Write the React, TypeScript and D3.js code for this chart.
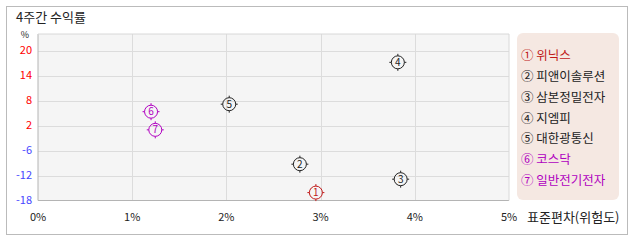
import React from "react";
import * as d3 from "d3";

const names = ["위닉스", "피앤이솔루션", "삼본정밀전자", "지엠피", "대한광통신", "코스닥", "일반전기전자"];
const marks = ["①", "②", "③", "④", "⑤", "⑥", "⑦"];
const risk = [2.95, 2.78, 3.85, 3.82, 2.03, 1.2, 1.245];
const ret = [-16.0, -8.8, -12.6, 17.0, 6.4, 4.5, -0.1];
const colors = ["#c01818", "#222222", "#222222", "#222222", "#222222", "#b000c0", "#b000c0"];
const yTicks = [20, 14, 8, 2, -6, -12, -18];
const xTicks = [0, 1, 2, 3, 4, 5];

const FONT = "'Noto Sans CJK KR', 'DejaVu Sans', sans-serif";

export default function App() {
  const W = 638, H = 242;
  const x = d3.scaleLinear().domain([0, 5]).range([38, 509]);
  const y = d3.scaleLinear().domain([-18, 20]).range([200.5, 50.5]);
  const tickPos = d3.scaleLinear().domain([0, yTicks.length - 1]).range([y(20), y(-18)]);
  const left = x(0), right = x(5), top = 34, bottom = y(-18);
  return (
    <svg width={W} height={H} style={{ position: "absolute", left: 0, top: 0 }} fontFamily={FONT}>
      <rect x={6.5} y={6.5} width={621} height={228} fill="#fff" stroke="#bbb" />
      <text x={16} y={22} fontSize={13} fill="#222">4주간 수익률</text>
      <text x={25} y={38} fontSize={9} fill="#222" textAnchor="middle">%</text>
      <rect x={left} y={top} width={right - left} height={bottom - top} fill="#f5f5f5" />
      {xTicks.slice(1, 5).map((t) => (
        <line key={"gx" + t} x1={Math.round(x(t)) + 0.5} x2={Math.round(x(t)) + 0.5} y1={top} y2={bottom} stroke="#dcdcdc" />
      ))}
      {yTicks.slice(0, 6).map((t, i) => (
        <line key={"gy" + t} x1={left} x2={right} y1={Math.round(tickPos(i)) + 0.5} y2={Math.round(tickPos(i)) + 0.5} stroke="#dcdcdc" />
      ))}
      <line x1={left} x2={left} y1={top} y2={bottom} stroke="#b4b4b4" />
      <line x1={left} x2={right} y1={bottom} y2={bottom} stroke="#b4b4b4" />
      <line x1={right} x2={right} y1={top} y2={bottom} stroke="#d8d8d8" />
      <line x1={left} x2={right} y1={top} y2={top} stroke="#d8d8d8" />
      {yTicks.map((t, i) => (
        <text key={"yl" + t} x={32} y={tickPos(i)} dy="0.35em" fontSize={11} textAnchor="end" fill={t > 0 ? "#ff0000" : "#4646ff"}>
          {t}
        </text>
      ))}
      {xTicks.map((t) => (
        <text key={"xl" + t} x={x(t)} y={217} dy="0.35em" fontSize={11} textAnchor="middle" fill="#222">
          {t + "%"}
        </text>
      ))}
      <text x={527} y={217} dy="0.35em" fontSize={13} fill="#222">표준편차(위험도)</text>
      {risk.map((r, i) => {
        const cx = x(r), cy = y(ret[i]);
        const c = colors[i];
        return (
          <g key={"p" + i}>
            <circle cx={cx} cy={cy} r={6.5} fill="none" stroke={c} strokeWidth={1} />
            <line x1={cx} x2={cx} y1={cy - 8.5} y2={cy - 6.5} stroke={c} />
            <line x1={cx} x2={cx} y1={cy + 6.5} y2={cy + 8.5} stroke={c} />
            <line x1={cx - 8.5} x2={cx - 6.5} y1={cy} y2={cy} stroke={c} />
            <line x1={cx + 6.5} x2={cx + 8.5} y1={cy} y2={cy} stroke={c} />
            <text x={cx} y={cy} dy="0.36em" fontSize={10} textAnchor="middle" fill={c}>{i + 1}</text>
          </g>
        );
      })}
      <rect x={517} y={33} width={102} height={167} rx={6} fill="#f5e8e2" />
      {names.map((n, i) => (
        <text key={"lg" + i} x={521} y={55.5 + i * 20.9} dy="0.35em" fontSize={12.5} fill={colors[i]}>
          {marks[i] + " " + n}
        </text>
      ))}
    </svg>
  );
}
